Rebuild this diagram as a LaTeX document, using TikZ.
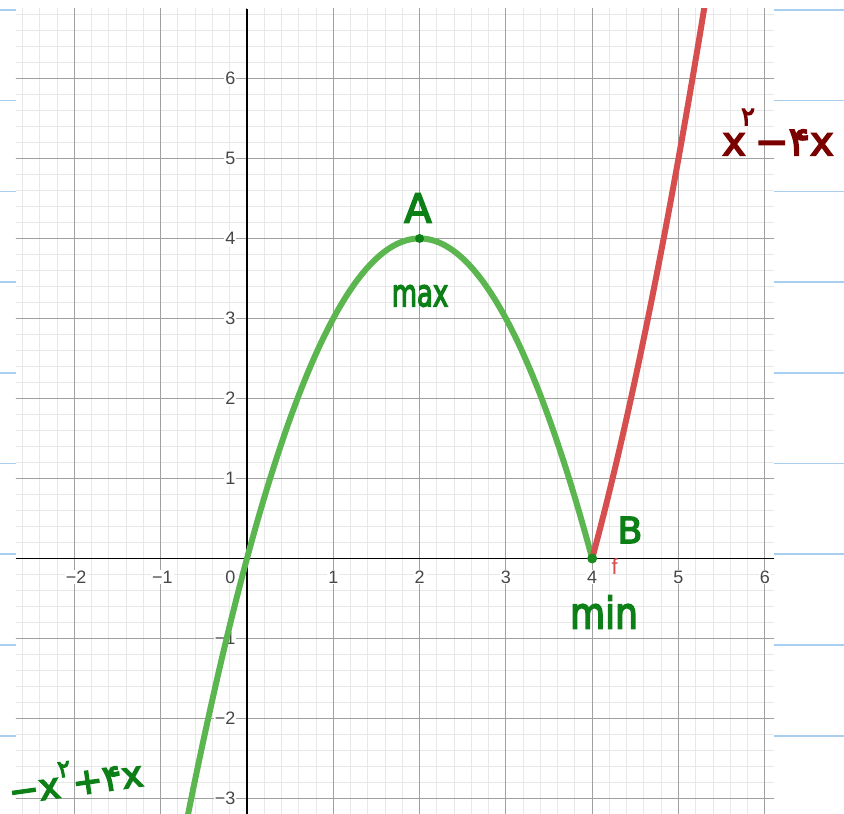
\documentclass[tikz,border=0pt]{standalone}
\usepackage{fontspec}
\setmainfont{Liberation Sans}
\newfontfamily\hand[FakeBold=4]{DejaVu Sans}
\definecolor{gmajor}{RGB}{160,160,160}
\definecolor{gminor}{RGB}{232,232,232}
\definecolor{curveg}{RGB}{92,182,80}
\definecolor{curver}{RGB}{214,78,78}
\definecolor{inkg}{RGB}{12,128,22}
\definecolor{inkr}{RGB}{122,0,0}
\definecolor{note}{RGB}{168,206,240}
\definecolor{ticklab}{RGB}{70,70,70}
\tikzset{
  ticklabel/.style={fill=white,inner sep=1pt,text=ticklab,font=\fontsize{18}{18}\selectfont},
  handg/.style={text=inkg,inner sep=0pt,font=\hand},
  handr/.style={text=inkr,inner sep=0pt,font=\hand},
  noteline/.style={note,line width=1.3pt},
  minorline/.style={gminor,line width=1pt},
  majorline/.style={gmajor,line width=1pt},
}
\begin{document}
\begin{tikzpicture}[x=86.3pt,y=80pt]
\useasboundingbox (-2.862,-3.194) rectangle (6.918,6.981);
\fill[white] (-2.862,-3.194) rectangle (6.918,6.981);
% notebook lines outside the graph
\foreach \p in {10,100.7,191.5,282,373,463.5,554,645,736}{
  \draw[noteline] (-2.862,{(558.5-\p)/80}) -- (-2.677,{(558.5-\p)/80});
  \draw[noteline] (6.107,{(558.5-\p)/80}) -- (6.918,{(558.5-\p)/80});
}
\begin{scope}
\clip (-2.677,-3.194) rectangle (6.107,6.869);
\foreach \i in {-14,...,31}{\draw[minorline] ({\i/5},-3.3) -- ({\i/5},7);}
\foreach \j in {-16,...,35}{\draw[minorline] (-2.8,{\j/5}) -- (6.2,{\j/5});}
\foreach \i in {-2,...,6}{\draw[majorline] (\i,-3.3) -- (\i,7);}
\foreach \j in {-3,...,6}{\draw[majorline] (-2.8,\j) -- (6.2,\j);}
\draw[black,line width=1.6pt] (-2.677,0) -- (6.107,0);
\draw[black,line width=1.6pt] (0,-3.194) -- (0,6.869);
% tick labels
\foreach \v in {1,...,6}{
  \node[ticklabel] (xl\v) at (\v,-0.231) {\v};
}
\node[ticklabel] (xlm1) at (-0.98,-0.231) {−1};
\node[ticklabel] (xlm2) at (-1.98,-0.231) {−2};
\node[ticklabel,anchor=east] (xl0) at (-0.12,-0.231) {0};
\foreach \v in {1,...,6}{
  \node[ticklabel,anchor=east] (yl\v) at (-0.12,\v) {\v};
}
\node[ticklabel,anchor=east] (ylm1) at (-0.12,-1) {−1};
\node[ticklabel,anchor=east] (ylm2) at (-0.12,-2) {−2};
\node[ticklabel,anchor=east] (ylm3) at (-0.12,-3) {−3};
% curves
\draw[curveg,line width=6pt] plot[domain=-0.72:4,samples=120,smooth] (\x,{-\x*\x+4*\x});
\draw[curver,line width=6pt] plot[domain=4:5.35,samples=60,smooth] (\x,{\x*\x-4*\x});
\end{scope}
\node[text=curver,inner sep=0pt,font=\fontsize{22}{22}\selectfont] (flab) at (4.26,-0.1) {f};
\fill[inkg] (2,4) circle (4.5pt) coordinate (A);
\fill[inkg!80!curveg] (4,0) circle (5pt) coordinate (B);
% handwritten notes
\node[handg,font=\hand\fontsize{40}{40}\selectfont] (ta) at (1.981,4.381) {A};
\node[handg,font=\hand\fontsize{26}{26}\selectfont] (tmax) at (2.005,3.281) {\scalebox{1}[1.45]{max}};
\node[handg,font=\hand\fontsize{36}{36}\selectfont] (tb) at (4.438,0.356) {B};
\node[handg,font=\hand\fontsize{36}{36}\selectfont] (tmin) at (4.137,-0.669) {\scalebox{1}[1.2]{min}};
\node[handr,font=\hand\fontsize{40}{40}\selectfont,anchor=west] (tr) at (5.504,5.33) {x\hspace{-0.12em}\raisebox{0.75em}{\fontsize{26}{26}\selectfont ۲}−۴x};
\node[handg,font=\hand\fontsize{36}{36}\selectfont,anchor=west,rotate=8] (tg) at (-2.77,-2.86) {−x\raisebox{0.55em}{\fontsize{24}{24}\selectfont ۲}+۴x};
\end{tikzpicture}
\end{document}
